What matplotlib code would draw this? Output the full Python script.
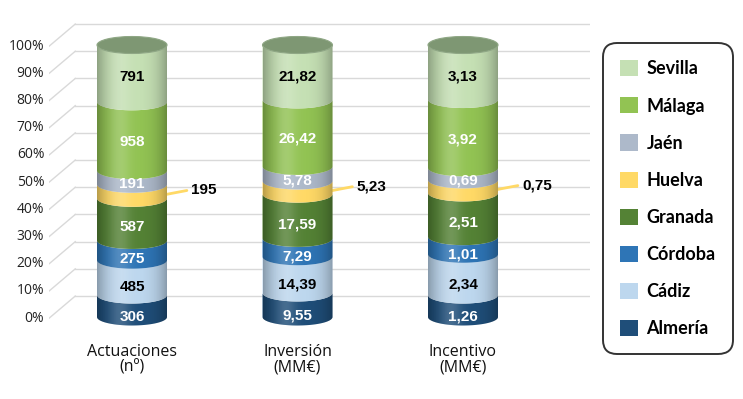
import numpy as np
import matplotlib.pyplot as plt
from matplotlib.patches import Polygon, Ellipse, Patch

categories = ['Actuaciones\n(nº)', 'Inversión\n(MM€)', 'Incentivo\n(MM€)']
provinces = ['Almería', 'Cádiz', 'Córdoba', 'Granada', 'Huelva', 'Jaén', 'Málaga', 'Sevilla']
actuaciones = [306, 485, 275, 587, 195, 191, 958, 791]
inversion = [9.55, 14.39, 7.29, 17.59, 5.23, 5.78, 26.42, 21.82]
incentivo = [1.26, 2.34, 1.01, 2.51, 0.75, 0.69, 3.92, 3.13]
series = [actuaciones, inversion, incentivo]

colors = ['#1f4e79', '#bdd7ee', '#2e75b6', '#548235', '#ffd966', '#adb9ca', '#92c353', '#c5e0b4']
text_colors = ['white', 'black', 'white', 'white', 'black', 'white', 'white', 'black']
outside = 'Huelva'  # label drawn outside with a leader line

# figure geometry (pixels)
fig = plt.figure(figsize=(7.43, 3.99), dpi=100)
W, H = 743, 399
y0px, y100px = 317, 45
pxper = (y0px - y100px) / 100
step = 165.5
ylo, yhi = -16, 112
xmax = -0.5 + 540.75 / step
ax = fig.add_axes([49.25 / W, (H - y0px + ylo * pxper) / H, 540.75 / W, (yhi - ylo) * pxper / H])
ax.axis('off')

a = 35 / step          # cylinder half width (x units)
b = 8.5 / pxper        # ellipse half height (percent units)
dx = 26 / step         # depth offset of grid

# perspective grid
for p in range(0, 101, 10):
    yf = p - 0.4
    yb = p + 7.7
    ax.plot([-0.5, -0.5 + dx], [yf, yb], color='#d9d9d9', lw=1, zorder=0)
    ax.plot([-0.5 + dx, xmax], [yb, yb], color='#d9d9d9', lw=1, zorder=0)
    ax.text(-0.53, yf, f'{p}%', ha='right', va='center', fontsize=10,
            family='Open Sans', color='#222222')

t = np.linspace(np.pi, 2 * np.pi, 80)


def front_arc(cx, y):
    return np.column_stack([cx + a * np.cos(t), y + b * np.sin(t)])


def fmt(v):
    if isinstance(v, int):
        return str(v)
    return f'{v:.2f}'.replace('.', ',')


grad = np.linspace(-1, 1, 200)
shade = np.zeros((1, 200, 4))
shade[0, :, 3] = 0.28 * np.abs(grad) ** 3
light = np.ones((1, 200, 4))
light[0, :, 3] = 0.18 * np.exp(-((grad + 0.35) / 0.3) ** 2)

for i, vals in enumerate(series):
    vals = np.array(vals, dtype=float)
    pct = vals / vals.sum() * 100
    cum = np.concatenate([[0], np.cumsum(pct)])
    cum[-1] = 100
    for k in range(len(vals)):
        lo, hi = cum[k], cum[k + 1]
        pts = np.vstack([front_arc(i, lo), front_arc(i, hi)[::-1]])
        ax.add_patch(Polygon(pts, closed=True, facecolor=colors[k], edgecolor='none', zorder=2))
        mid = (lo + hi) / 2
        label = fmt(series[i][k])
        if provinces[k] == outside:
            ax.plot([i + a - 0.01, i + a + 0.12], [mid - 1.2, mid + 0.3],
                    color=colors[k], lw=2, zorder=3, solid_capstyle='round')
            ax.text(i + a + 0.145, mid + 0.3, label, ha='left', va='center',
                    fontsize=11, fontweight='bold', family='Liberation Sans', color='black', zorder=4)
        else:
            ymid = mid - (4.0 - 0.029 * mid)
            ax.text(i, ymid, label, ha='center', va='center', fontsize=11,
                    fontweight='bold', family='Liberation Sans', color=text_colors[k], zorder=4)
    body = Polygon(np.vstack([front_arc(i, 0), front_arc(i, 100)[::-1]]), closed=True,
                   facecolor='none', edgecolor='none')
    ax.add_patch(body)
    for img in (shade, light):
        im = ax.imshow(img, extent=[i - a, i + a, -b, 100], aspect='auto', zorder=3,
                       interpolation='bilinear')
        im.set_clip_path(body)
    cap = Ellipse((i, 100), 2 * a, 2 * b, facecolor='#7e9773', edgecolor='#8fa785', lw=0.8, zorder=5)
    ax.add_patch(cap)
    ax.text(i, -9.8, categories[i], ha='center', va='top', fontsize=11.5,
            family='Open Sans', linespacing=1.0, color='#111111')

ax.set_xlim(-0.5, xmax)
ax.set_ylim(ylo, yhi)

handles = [Patch(facecolor=colors[k], edgecolor='none', label=provinces[k])
           for k in range(len(provinces))][::-1]
leg = fig.legend(handles=handles, loc='upper left', bbox_to_anchor=(603 / W, 1 - 43 / H),
                 prop={'family': 'Lato', 'weight': 'bold', 'size': 13},
                 handlelength=1.0, handleheight=1.0, handletextpad=0.45,
                 labelspacing=1.1, borderpad=0.95, borderaxespad=0,
                 fancybox=True, frameon=True)
frame = leg.get_frame()
frame.set_edgecolor('black')
frame.set_linewidth(1.4)
frame.set_boxstyle('round', pad=0, rounding_size=0.8)

fig.savefig('out.png', dpi=100)
